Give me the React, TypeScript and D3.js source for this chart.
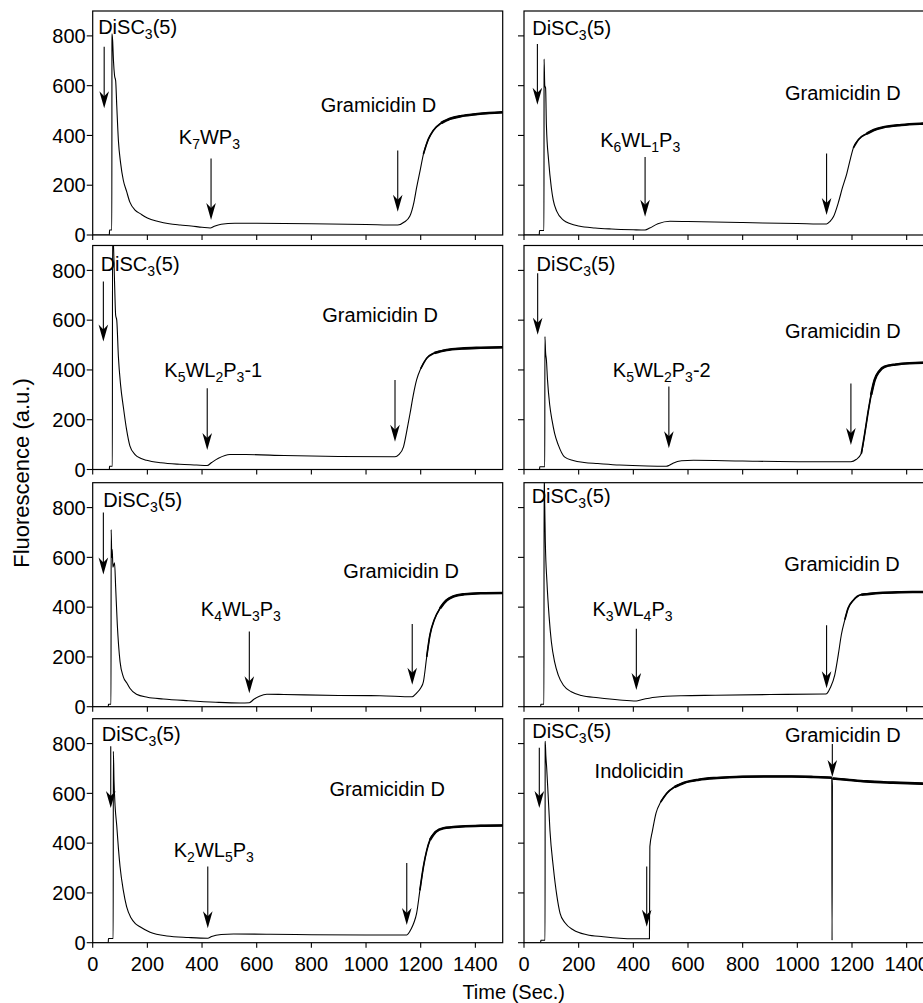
import React from 'react';
import * as d3 from 'd3';

type Pt = [number, number];
type Seg = [string, number];

const timeTicks = [0, 200, 400, 600, 800, 1000, 1200, 1400];
const fluorTicks = [0, 200, 400, 600, 800];

// Fluorescence traces (time s, fluorescence a.u.)
const k7wp3: Pt[] = [[0,0],[61,0],[61.5,20],[70,20],[70.5,808],[73,780],[76,700],[80,640],[84,620],[88,520],[94,380],[102,290],[112,220],[124,175],[136,132],[155,100],[175,85],[200,68],[240,54],[280,45],[320,40],[360,36],[400,31],[430,28],[445,35],[470,43],[520,47],[600,47],[800,45],[1000,42],[1116,40],[1140,52],[1160,75],[1175,130],[1185,190],[1198,260],[1210,325],[1228,385],[1246,420],[1275,450],[1307,467],[1350,478],[1400,485],[1450,490],[1500,493]];
const k6wl1p3: Pt[] = [[0,0],[56,0],[56.5,18],[73,18],[73.5,707],[76,600],[79,590],[82,440],[90,300],[100,190],[107,140],[120,95],[144,60],[170,45],[200,36],[260,28],[320,24],[400,21],[443,20],[460,28],[490,45],[534,55],[600,54],[800,50],[1000,46],[1107,44],[1120,55],[1132,73],[1150,130],[1165,190],[1181,247],[1195,310],[1205,350],[1225,385],[1254,407],[1280,422],[1315,433],[1380,442],[1449,447],[1500,449]];
const k5wl2p3a: Pt[] = [[0,0],[61,0],[61.5,13],[72,13],[72.5,950],[76,900],[80,750],[84,620],[88,600],[94,453],[102,340],[112,252],[124,160],[136,95],[155,60],[175,45],[197,37],[250,27],[319,21],[380,18],[419,16],[435,28],[460,45],[502,60],[560,60],[700,56],[900,52],[1106,51],[1120,60],[1137,91],[1150,160],[1161,225],[1173,300],[1185,360],[1200,405],[1222,447],[1250,468],[1295,480],[1350,486],[1420,489],[1500,491]];
const k5wl2p3b: Pt[] = [[0,0],[57,0],[57.5,11],[76,11],[76.5,534],[79,470],[82,440],[86,360],[94,260],[103,195],[112,145],[125,100],[148,51],[180,36],[220,28],[270,24],[350,18],[450,14],[520,13],[530,16],[545,25],[576,35],[620,37],[800,34],[1063,31],[1196,31],[1215,40],[1234,64],[1246,140],[1258,225],[1270,300],[1283,360],[1300,395],[1319,413],[1360,422],[1410,427],[1500,430]];
const k4wl3p3: Pt[] = [[0,0],[57,0],[57.5,10],[67,10],[67.5,712],[70,600],[71.5,631],[74,560],[77,570],[80,578],[84,480],[90,330],[100,181],[112,120],[125,95],[136,74],[160,50],[200,38],[258,31],[350,24],[450,18],[540,15],[573,16],[590,30],[610,42],[637,50],[700,49],[900,45],[1051,44],[1169,40],[1185,55],[1200,75],[1210,101],[1222,200],[1234,289],[1250,350],[1271,396],[1295,428],[1319,443],[1360,452],[1420,456],[1500,457]];
const k3wl4p3: Pt[] = [[0,0],[61,0],[61.5,10],[73,10],[73.5,950],[76,800],[78,663],[84,500],[92,360],[100,262],[112,180],[125,128],[145,85],[173,60],[210,45],[271,36],[350,27],[411,23],[430,28],[480,38],[577,44],[700,46],[900,49],[1101,51],[1107,52],[1120,75],[1137,128],[1150,210],[1161,289],[1174,350],[1186,396],[1205,428],[1234,450],[1300,457],[1380,460],[1453,461],[1500,462]];
const k2wl5p3: Pt[] = [[0,0],[57,0],[57.5,17],[75,17],[75.5,769],[78,650],[82,548],[88,470],[94,380],[100,306],[112,210],[124,145],[140,100],[155,78],[173,64],[210,42],[271,27],[350,21],[421,18],[435,25],[470,33],[515,35],[650,34],[800,32],[1000,31],[1149,31],[1165,55],[1175,80],[1185,118],[1197,210],[1210,306],[1222,370],[1234,413],[1255,445],[1283,460],[1350,467],[1420,470],[1500,471]];
const indolicidin: Pt[] = [[0,0],[61,0],[61.5,10],[77,10],[77.5,809],[80,750],[83,702],[88,600],[95,450],[107,306],[120,190],[132,118],[150,80],[181,51],[230,32],[290,24],[351,18],[400,16],[459,16],[460.5,386],[470,450],[483,521],[500,565],[523,601],[550,625],[584,642],[640,655],[706,662],[800,667],[889,668],[980,668],[1059,666],[1126,663],[1127,10],[1128.5,660],[1180,655],[1252,648],[1350,643],[1458,639],[1500,637]];

const traces: Pt[][] = [k7wp3, k6wl1p3, k5wl2p3a, k5wl2p3b, k4wl3p3, k3wl4p3, k2wl5p3, indolicidin];
// time windows [ramp start, full start, end] in which the recorded trace is visibly noisy (drawn thicker)
const noisyWindows: [number, number, number][][] = [
  [[1210, 1250, 1500]], [[1200, 1240, 1500]], [[1200, 1240, 1500]], [[1230, 1270, 1500]],
  [[1220, 1260, 1500]], [[1170, 1210, 1500]], [[1190, 1230, 1500]], [[490, 530, 1126], [1128, 1128, 1500]],
];

const dyeName: Seg[] = [['DiSC', 0], ['3', 1], ['(5)', 0]];
const peptideNames: Seg[][] = [
  [['K', 0], ['7', 1], ['WP', 0], ['3', 1]],
  [['K', 0], ['6', 1], ['WL', 0], ['1', 1], ['P', 0], ['3', 1]],
  [['K', 0], ['5', 1], ['WL', 0], ['2', 1], ['P', 0], ['3', 1], ['-1', 0]],
  [['K', 0], ['5', 1], ['WL', 0], ['2', 1], ['P', 0], ['3', 1], ['-2', 0]],
  [['K', 0], ['4', 1], ['WL', 0], ['3', 1], ['P', 0], ['3', 1]],
  [['K', 0], ['3', 1], ['WL', 0], ['4', 1], ['P', 0], ['3', 1]],
  [['K', 0], ['2', 1], ['WL', 0], ['5', 1], ['P', 0], ['3', 1]],
  [['Indolicidin', 0]],
];
const gramName: Seg[] = [['Gramicidin D', 0]];

// annotation anchors in data units (t, f)
const dyeLabelAt: Pt[] = [[20,806],[30,803],[29,796],[46,796],[39,803],[28,820],[33,809],[30,823]];
const dyeArrows: ([number, number, number] | null)[] = [[42,756,509],[49,767,523],[39,755,514],[50,789,541],[39,780,531],null,[66,789,541],[56,783,541]];
const peptideLabelAt: Pt[] = [[427,367],[425,353],[441,373],[504,373],[542,363],[397,363],[443,346],[421,662]];
const peptideArrows: [number, number, number][] = [[433,307,60],[443,313,73],[419,326,78],[530,333,85],[573,302,54],[411,313,67],[421,306,58],[449,306,64]];
const gramLabelAt: Pt[] = [[834,493],[955,544],[840,594],[955,528],[917,518],[952,545],[866,588],[955,805]];
const gramArrows: [number, number, number][] = [[1116,340,93],[1107,327,80],[1106,360,111],[1196,346,98],[1169,332,88],[1107,327,74],[1149,320,71],[1128,798,666]];

const W = 923;
const H = 1003;
const FONT = "'Liberation Sans', Arial, Helvetica, sans-serif";
const FS = 20;
const colX: [number, number][] = [[92.7, 502.7], [524, 934]];
const rowBottom = [235, 469.5, 706.7, 942.7];
const plotH = 224;

function Rich({ x, y, segs, anchor, size = FS }: { x: number; y: number; segs: Seg[]; anchor: string; size?: number }) {
  let shifted = false;
  return (
    <text x={x} y={y} textAnchor={anchor} fontSize={size} fontFamily={FONT} fill="#000">
      {segs.map(([s, sub], i) => {
        let dy = 0;
        if (sub && !shifted) { dy = 5; shifted = true; }
        else if (!sub && shifted) { dy = -5; shifted = false; }
        return (
          <tspan key={i} dy={dy} fontSize={sub ? 14 : size}>{s}</tspan>
        );
      })}
    </text>
  );
}

function Arrow({ x, y0, y1 }: { x: number; y0: number; y1: number }) {
  const hw = 4.8, hl = 17, notch = 12;
  return (
    <g>
      <line x1={x} x2={x} y1={y0} y2={y1 - 6} stroke="#000" strokeWidth={1.1} />
      <path d={`M${x},${y1} L${x - hw},${y1 - hl} L${x},${y1 - notch} L${x + hw},${y1 - hl} Z`} fill="#000" />
    </g>
  );
}

function Panel({ idx }: { idx: number }) {
  const col = idx % 2;
  const row = Math.floor(idx / 2);
  const [x0, x1] = colX[col];
  const yb = rowBottom[row];
  const yt = yb - plotH;
  const x = d3.scaleLinear().domain([0, 1500]).range([x0, x1]);
  const y = d3.scaleLinear().domain([0, 900]).range([yb, yt]);
  const line = d3.line<Pt>().x(d => x(d[0])).y(d => y(d[1])).curve(d3.curveMonotoneX);
  const data = traces[idx];
  const clipId = `clip-${idx}`;
  const dA = dyeArrows[idx];
  const pA = peptideArrows[idx];
  const gA = gramArrows[idx];
  return (
    <g>
      <defs>
        <clipPath id={clipId}>
          <rect x={x0} y={yt} width={x1 - x0} height={plotH} />
        </clipPath>
      </defs>
      <g clipPath={`url(#${clipId})`}>
        <path d={line(data) || ''} fill="none" stroke="#000" strokeWidth={1.1} />
        {noisyWindows[idx].map(([r, a, b], k) => (
          <g key={k}>
            <path d={line(data.filter(d => d[0] >= r && d[0] <= b)) || ''} fill="none" stroke="#000" strokeWidth={1.7} />
            <path d={line(data.filter(d => d[0] >= a && d[0] <= b)) || ''} fill="none" stroke="#000" strokeWidth={2.6} />
          </g>
        ))}
      </g>
      <rect x={x0} y={yt} width={x1 - x0} height={plotH} fill="none" stroke="#000" strokeWidth={1.2} />
      {fluorTicks.map(v => (
        <g key={'y' + v}>
          <line x1={x0 - 6} x2={x0} y1={y(v)} y2={y(v)} stroke="#000" strokeWidth={1.1} />
          {col === 0 && (
            <text x={x0 - 7} y={y(v)} dy="0.36em" textAnchor="end" fontSize={FS} fontFamily={FONT}>{v}</text>
          )}
        </g>
      ))}
      {timeTicks.map(v => (
        <g key={'x' + v}>
          <line x1={x(v)} x2={x(v)} y1={yb} y2={yb + 5} stroke="#000" strokeWidth={1.1} />
          {row === 3 && (
            <text x={x(v)} y={yb + 28} textAnchor="middle" fontSize={FS} fontFamily={FONT}>{v}</text>
          )}
        </g>
      ))}
      <Rich x={x(dyeLabelAt[idx][0])} y={y(dyeLabelAt[idx][1])} segs={dyeName} anchor="start" />
      {dA && <Arrow x={x(dA[0])} y0={y(dA[1])} y1={y(dA[2])} />}
      <Rich x={x(peptideLabelAt[idx][0])} y={y(peptideLabelAt[idx][1])} segs={peptideNames[idx]} anchor="middle" />
      <Arrow x={x(pA[0])} y0={y(pA[1])} y1={y(pA[2])} />
      <Rich x={x(gramLabelAt[idx][0])} y={y(gramLabelAt[idx][1])} segs={gramName} anchor="start" />
      <Arrow x={x(gA[0])} y0={y(gA[1])} y1={y(gA[2])} />
    </g>
  );
}

export default function App() {
  return (
    <div style={{ position: 'absolute', left: 0, top: 0, width: W, height: H, overflow: 'hidden', background: '#fff' }}>
      <svg width={W} height={H} style={{ display: 'block' }}>
        <rect x={0} y={0} width={W} height={H} fill="#fff" />
        {traces.map((_, i) => <Panel key={i} idx={i} />)}
        <text transform="translate(29,473) rotate(-90)" textAnchor="middle" fontSize={22} fontFamily={FONT}>Fluorescence (a.u.)</text>
        <text x={513.7} y={999} textAnchor="middle" fontSize={FS} fontFamily={FONT}>Time (Sec.)</text>
      </svg>
    </div>
  );
}
